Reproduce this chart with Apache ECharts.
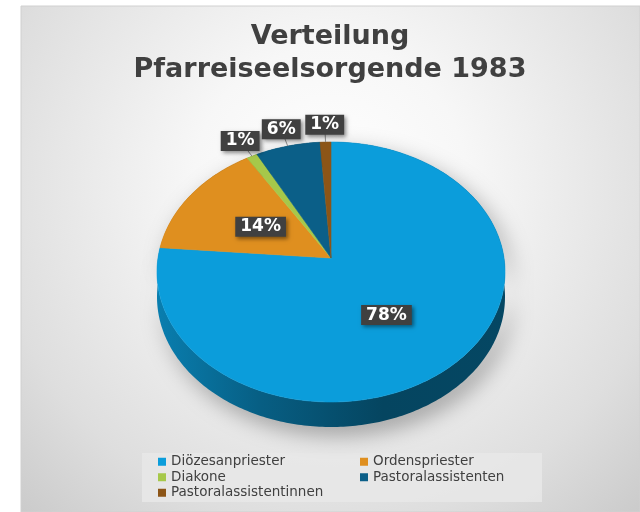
<!DOCTYPE html>
<html>
<head>
<meta charset="utf-8">
<script src="https://cdn.jsdelivr.net/npm/echarts@6/dist/echarts.min.js"></script>
<style>
  html, body { margin: 0; padding: 0; background: #fff; }
  #chart { width: 640px; height: 512px; }
</style>
</head>
<body>
<div id="chart"></div>
<script>
const categories = ['Diözesanpriester', 'Ordenspriester', 'Diakone', 'Pastoralassistenten', 'Pastoralassistentinnen'];
const shares = [78, 14, 1, 6, 1];
const colors = ['#0b9ddb', '#df8f1f', '#a6c84a', '#0b5f88', '#8c5517'];

// pie geometry (3d look: squashed rim, apex pushed up a bit, extruded side)
const CX = 331, CY = 272, RX = 174, RY = 130, APEX_Y = 258, DEPTH = 25;
const FONT = '"DejaVu Sans", Verdana, sans-serif';

const total = shares.reduce((a, b) => a + b, 0);
const starts = [];
shares.reduce((acc, v, i) => { starts[i] = acc; return acc + v; }, 0);
const angle = (v) => (v / total) * 360;

function rim(theta, dy) {
  const t = (theta * Math.PI) / 180;
  return [CX + RX * Math.sin(t), CY - RY * Math.cos(t) + dy];
}
function arc(a0, a1, dy) {
  const n = Math.max(2, Math.ceil(a1 - a0));
  const pts = [];
  for (let k = 0; k <= n; k++) pts.push(rim(a0 + ((a1 - a0) * k) / n, dy));
  return pts;
}
function darken(hex, k) {
  const c = echarts.color.parse(hex);
  return 'rgb(' + [0, 1, 2].map((j) => Math.round(c[j] * k)).join(',') + ')';
}

const chart = echarts.init(document.getElementById('chart'), null, { renderer: 'canvas' });

const faceSeries = categories.map((name, i) => ({
  name,
  type: 'custom',
  coordinateSystem: 'none',
  z: 2,
  itemStyle: { color: colors[i] },
  data: [[shares[i]]],
  renderItem: () => {
    const a0 = angle(starts[i]);
    const a1 = a0 + angle(shares[i]);
    return {
      type: 'polygon',
      shape: { points: [[CX, APEX_Y]].concat(arc(a0, a1, 0)) },
      style: { fill: colors[i], stroke: colors[i], lineWidth: 0.6 },
    };
  },
}));

const sideSeries = {
  type: 'custom',
  coordinateSystem: 'none',
  z: 1,
  data: shares,
  renderItem: (params) => {
    const i = params.dataIndex;
    const a0 = angle(starts[i]);
    const a1 = a0 + angle(shares[i]);
    const c = colors[i];
    const pts = arc(a0, a1, 0).concat(arc(a0, a1, DEPTH).reverse());
    return {
      type: 'polygon',
      shape: { points: pts },
      style: {
        fill: {
          type: 'linear', x: 0, y: 0, x2: 1, y2: 0,
          colorStops: [
            { offset: 0, color: darken(c, 0.8) },
            { offset: 0.3, color: darken(c, 0.6) },
            { offset: 0.65, color: darken(c, 0.44) },
            { offset: 1, color: darken(c, 0.45) },
          ],
        },
        shadowBlur: 22,
        shadowColor: 'rgba(0,0,0,0.33)',
        shadowOffsetX: 6,
        shadowOffsetY: 8,
      },
    };
  },
};

const labelSeries = {
  type: 'custom',
  coordinateSystem: 'none',
  z: 3,
  data: shares,
  renderItem: (params) => {
    const i = params.dataIndex;
    const mid = angle(starts[i]) + angle(shares[i]) / 2;
    const p = rim(mid, 0);
    const inside = shares[i] >= 10;
    const f = inside ? 0.5 : 1.15;
    const x = CX + (p[0] - CX) * f;
    const y = APEX_Y + (p[1] - APEX_Y) * f;
    const children = [];
    if (!inside) {
      children.push({
        type: 'line',
        shape: { x1: p[0], y1: p[1], x2: x, y2: y },
        style: { stroke: '#8c8c8c', lineWidth: 1 },
      });
    }
    children.push({
      type: 'text',
      x, y,
      style: {
        text: Math.round((shares[i] / total) * 100) + '%',
        font: 'bold 17px ' + FONT,
        fill: '#ffffff',
        align: 'center',
        verticalAlign: 'middle',
        backgroundColor: '#404040',
        padding: [2, 5, 1, 5],
        shadowBlur: 4,
        shadowColor: 'rgba(0,0,0,0.45)',
        shadowOffsetX: 2,
        shadowOffsetY: 2,
      },
    });
    return { type: 'group', children };
  },
};

const legendText = { color: '#404040', fontSize: 13.5, fontFamily: FONT, lineHeight: 15.5 };

chart.setOption({
  animation: false,
  backgroundColor: '#ffffff',
  title: {
    text: 'Verteilung\nPfarreiseelsorgende 1983',
    left: 330,
    top: 20,
    padding: 0,
    textAlign: 'center',
    textStyle: { color: '#404040', fontSize: 27, fontWeight: 'bold', fontFamily: FONT, lineHeight: 33 },
  },
  graphic: [
    {
      type: 'rect',
      z: -10,
      shape: { x: 21, y: 6, width: 619, height: 506 },
      style: {
        fill: {
          type: 'radial', x: 0.5, y: 0.35, r: 0.9,
          colorStops: [
            { offset: 0, color: '#ffffff' },
            { offset: 0.3, color: '#f7f7f7' },
            { offset: 0.75, color: '#dedede' },
            { offset: 1, color: '#cacaca' },
          ],
        },
        stroke: '#d0d0d0',
        lineWidth: 1,
      },
    },
    {
      type: 'rect',
      z: -9,
      shape: { x: 142, y: 453, width: 400, height: 49 },
      style: { fill: 'rgba(232,232,232,0.85)' },
    },
  ],
  legend: [
    {
      orient: 'vertical', left: 158, top: 454, padding: 0, itemGap: 0,
      itemWidth: 8, itemHeight: 8, icon: 'rect', selectedMode: false,
      data: [categories[0], categories[2], categories[4]],
      textStyle: legendText,
    },
    {
      orient: 'vertical', left: 360, top: 454, padding: 0, itemGap: 0,
      itemWidth: 8, itemHeight: 8, icon: 'rect', selectedMode: false,
      data: [categories[1], categories[3]],
      textStyle: legendText,
    },
  ],
  series: faceSeries.concat([sideSeries, labelSeries]),
});
</script>
</body>
</html>
